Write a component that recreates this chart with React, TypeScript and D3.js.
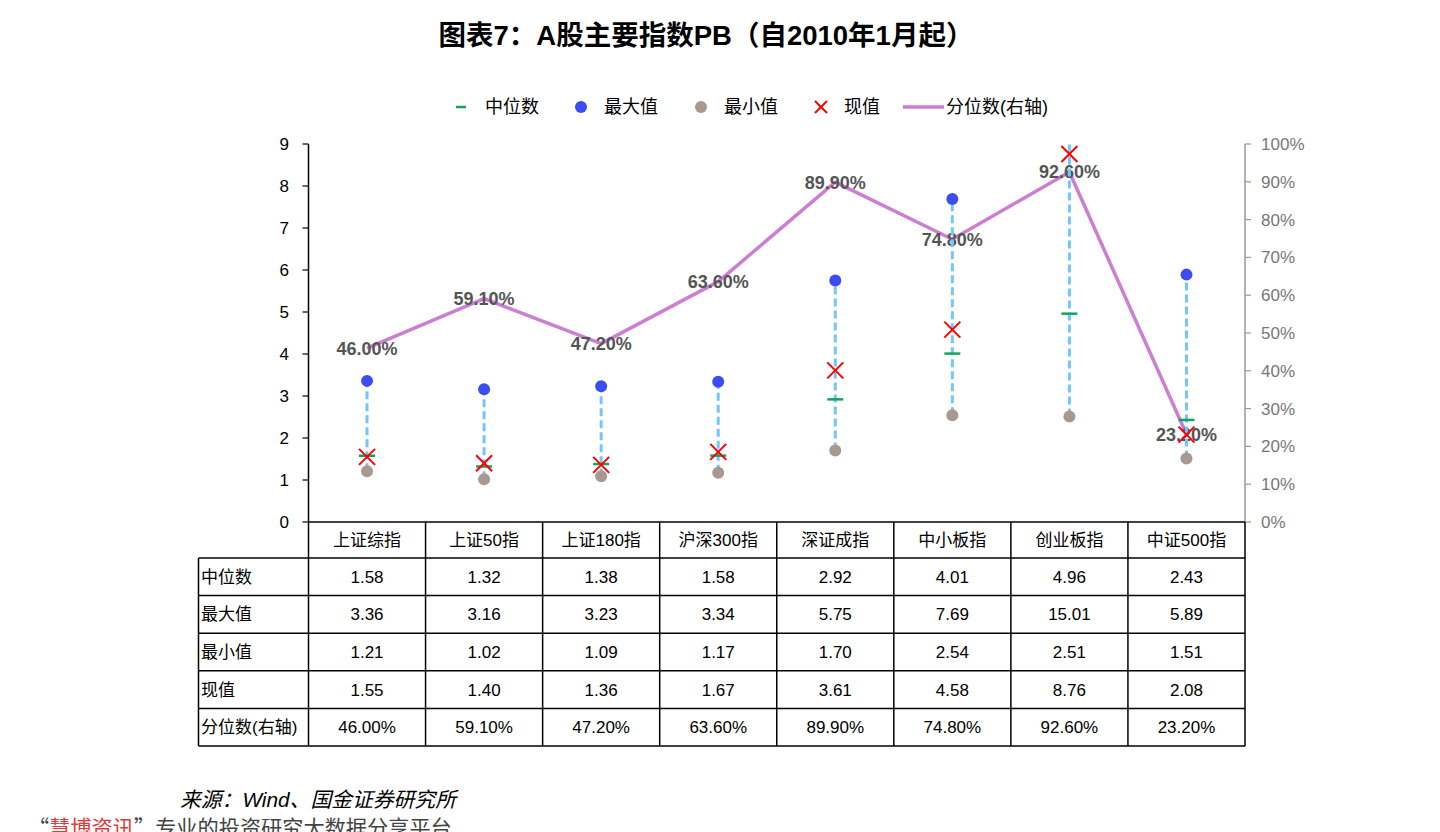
import React from 'react';
import * as d3 from 'd3';

const categories = ['上证综指', '上证50指', '上证180指', '沪深300指', '深证成指', '中小板指', '创业板指', '中证500指'];
const medianVals = [1.58, 1.32, 1.38, 1.58, 2.92, 4.01, 4.96, 2.43];
const maxVals = [3.36, 3.16, 3.23, 3.34, 5.75, 7.69, 15.01, 5.89];
const minVals = [1.21, 1.02, 1.09, 1.17, 1.70, 2.54, 2.51, 1.51];
const currentVals = [1.55, 1.40, 1.36, 1.67, 3.61, 4.58, 8.76, 2.08];
const pctVals = [46.0, 59.1, 47.2, 63.6, 89.9, 74.8, 92.6, 23.2];
const leftTicks = [0, 1, 2, 3, 4, 5, 6, 7, 8, 9];
const rightTicks = [0, 10, 20, 30, 40, 50, 60, 70, 80, 90, 100];
const rowLabels = ['中位数', '最大值', '最小值', '现值', '分位数(右轴)'];

const FONT = '"Liberation Sans", Arial, "Noto Sans CJK SC", sans-serif';
const C_MED = '#14A35B';
const C_MAX = '#3B4DF2';
const C_MIN = '#A89890';
const C_CUR = '#FF0000';
const C_PCT = '#CC7FD2';
const C_DASH = '#72C5FF';

export default function App() {
  const left = 308.5;
  const right = 1245;
  const top = 144;
  const bottom = 522;
  const x = d3.scaleBand<string>().domain(categories).range([left, right]).padding(0);
  const y = d3.scaleLinear().domain([0, 9]).range([bottom, top]);
  const y2 = d3.scaleLinear().domain([0, 100]).range([bottom, top]);
  const cx = (c: string) => (x(c) as number) + x.bandwidth() / 2;

  const line = d3.line<number>()
    .x((_, i) => cx(categories[i]))
    .y((d) => y2(d));

  const headerBottom = 558;
  const rowH = 37.6;
  const tableBottom = headerBottom + rowH * 5;
  const labelLeft = 198.5;

  const tableRows = [
    medianVals.map((v) => v.toFixed(2)),
    maxVals.map((v) => v.toFixed(2)),
    minVals.map((v) => v.toFixed(2)),
    currentVals.map((v) => v.toFixed(2)),
    pctVals.map((v) => v.toFixed(2) + '%'),
  ];

  const xMark = (px: number, py: number, s: number, key: string) => (
    <g key={key} stroke={C_CUR} strokeWidth={2}>
      <line x1={px - s} y1={py - s} x2={px + s} y2={py + s} />
      <line x1={px - s} y1={py + s} x2={px + s} y2={py - s} />
    </g>
  );

  const legendY = 107;

  return (
    <div style={{ position: 'fixed', left: 0, top: 0, width: 1440, height: 832, background: '#fff' }}>
      <svg width={1440} height={832} style={{ display: 'block', fontFamily: FONT }}>
        <defs>
          <clipPath id="plotClip">
            <rect x={left} y={top - 1} width={right - left} height={bottom - top + 1} />
          </clipPath>
        </defs>
        <text x={706} y={45} textAnchor="middle" fontSize={27.5} fontWeight="bold" fill="#000">
          图表7：A股主要指数PB（自2010年1月起）
        </text>

        {/* legend */}
        <g fontSize={18} fill="#000">
          <line x1={456} x2={466} y1={legendY} y2={legendY} stroke={C_MED} strokeWidth={2.5} />
          <text x={485} y={legendY + 6}>中位数</text>
          <circle cx={581} cy={legendY} r={6} fill={C_MAX} />
          <text x={604} y={legendY + 6}>最大值</text>
          <circle cx={701} cy={legendY} r={6} fill={C_MIN} />
          <text x={724} y={legendY + 6}>最小值</text>
          {xMark(821, legendY, 6, 'lgx')}
          <text x={844} y={legendY + 6}>现值</text>
          <line x1={903} x2={944} y1={legendY} y2={legendY} stroke={C_PCT} strokeWidth={3.5} />
          <text x={946} y={legendY + 6}>分位数(右轴)</text>
        </g>

        {/* left axis */}
        <g>
          <line x1={left} x2={left} y1={top} y2={bottom} stroke="#000" strokeWidth={1.5} />
          {leftTicks.map((t) => (
            <g key={'lt' + t}>
              <line x1={left - 6} x2={left} y1={y(t)} y2={y(t)} stroke="#000" strokeWidth={1.2} />
              <text x={289} y={y(t) + 6} textAnchor="end" fontSize={17} fill="#000">{t}</text>
            </g>
          ))}
        </g>

        {/* right axis */}
        <g>
          <line x1={right} x2={right} y1={top} y2={bottom} stroke="#999" strokeWidth={1.5} />
          {rightTicks.map((t) => (
            <g key={'rt' + t}>
              <line x1={right} x2={right + 6} y1={y2(t)} y2={y2(t)} stroke="#999" strokeWidth={1.2} />
              <text x={1261} y={y2(t) + 6} textAnchor="start" fontSize={17} fill="#777">{t}%</text>
            </g>
          ))}
        </g>

        {/* percentile line */}
        <path d={line(pctVals) || ''} fill="none" stroke={C_PCT} strokeWidth={3.5} strokeLinejoin="round" />
        {pctVals.map((v, i) => (
          <text key={'pl' + i} x={cx(categories[i])} y={y2(v) + 6.5} textAnchor="middle" fontSize={18} fontWeight="bold" fill="#555">
            {v.toFixed(2)}%
          </text>
        ))}

        {/* range markers */}
        <g clipPath="url(#plotClip)">
          {categories.map((c, i) => (
            <line key={'dl' + i} x1={cx(c)} x2={cx(c)} y1={y(minVals[i])} y2={y(maxVals[i])}
              stroke={C_DASH} strokeWidth={3} strokeDasharray="8 4" />
          ))}
          {categories.map((c, i) => (
            <circle key={'mx' + i} cx={cx(c)} cy={y(maxVals[i])} r={6} fill={C_MAX} />
          ))}
          {categories.map((c, i) => (
            <circle key={'mn' + i} cx={cx(c)} cy={y(minVals[i])} r={6} fill={C_MIN} />
          ))}
          {categories.map((c, i) => (
            <line key={'md' + i} x1={cx(c) - 8} x2={cx(c) + 8} y1={y(medianVals[i])} y2={y(medianVals[i])}
              stroke={C_MED} strokeWidth={2.5} />
          ))}
          {categories.map((c, i) => xMark(cx(c), y(currentVals[i]), 8, 'cx' + i))}
        </g>

        {/* table */}
        <g stroke="#000" strokeWidth={1.5}>
          <line x1={left} x2={right} y1={bottom} y2={bottom} />
          <line x1={labelLeft} x2={right} y1={headerBottom} y2={headerBottom} />
          {rowLabels.map((_, r) => (
            <line key={'hr' + r} x1={labelLeft} x2={right} y1={headerBottom + rowH * (r + 1)} y2={headerBottom + rowH * (r + 1)} />
          ))}
          <line x1={labelLeft} x2={labelLeft} y1={headerBottom} y2={tableBottom} />
          {categories.map((c) => (
            <line key={'vl' + c} x1={x(c) as number} x2={x(c) as number} y1={bottom} y2={tableBottom} />
          ))}
          <line x1={right} x2={right} y1={bottom} y2={tableBottom} />
        </g>
        <g fontSize={17} fill="#000">
          {categories.map((c) => (
            <text key={'hd' + c} x={cx(c)} y={(bottom + headerBottom) / 2 + 6} textAnchor="middle">{c}</text>
          ))}
          {rowLabels.map((l, r) => (
            <text key={'rl' + r} x={201} y={headerBottom + rowH * (r + 0.5) + 6}>{l}</text>
          ))}
          {tableRows.map((row, r) =>
            row.map((v, i) => (
              <text key={'tv' + r + '_' + i} x={cx(categories[i])} y={headerBottom + rowH * (r + 0.5) + 6} textAnchor="middle">{v}</text>
            ))
          )}
        </g>

        {/* source */}
        <text x={180} y={807} fontSize={20.8} fontStyle="italic" fill="#000">来源：Wind、国金证券研究所</text>
        <text x={28} y={836} fontSize={21.2} fill="#444">
          <tspan fontFamily='"Noto Sans CJK SC"'>“</tspan><tspan fill="#E03A3A">慧博资讯</tspan><tspan fontFamily='"Noto Sans CJK SC"'>”</tspan>专业的投资研究大数据分享平台
        </text>
      </svg>
    </div>
  );
}
